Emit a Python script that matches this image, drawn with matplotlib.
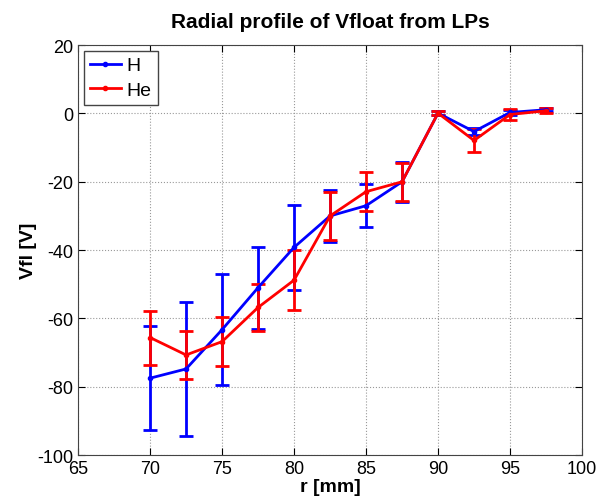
import matplotlib.pyplot as plt
from matplotlib.lines import Line2D
import numpy as np

plt.rcParams['font.family'] = ['Liberation Sans', 'DejaVu Sans']
plt.rcParams['axes.unicode_minus'] = False

# radial positions [mm]
r = [70, 72.5, 75, 77.5, 80, 82.5, 85, 87.5, 90, 92.5, 95, 97.5]

# floating potential, H
vfl_h = [-77.5, -74.8, -63.3, -51.0, -39.2, -30.0, -27.0, -20.0, 0.1, -5.3, 0.3, 1.1]
err_h = [15.3, 19.6, 16.2, 12.0, 12.5, 7.7, 6.3, 5.8, 0.5, 1.0, 0.8, 0.5]

# floating potential, He
vfl_he = [-65.6, -70.7, -66.8, -56.8, -48.8, -30.0, -22.9, -20.0, 0.1, -7.9, -0.3, 0.8]
err_he = [7.9, 7.0, 7.2, 7.0, 8.7, 7.0, 5.7, 5.5, 0.5, 3.5, 1.5, 0.7]

fig = plt.figure(figsize=(5.96, 5.02), dpi=100)
ax = fig.add_axes([0.131, 0.0916, 0.8455, 0.8164])

ax.errorbar(r, vfl_h, yerr=err_h, color='#0000ff', lw=2, marker='.', ms=6,
            elinewidth=2, capsize=5, capthick=2)
ax.errorbar(r, vfl_he, yerr=err_he, color='#ff0000', lw=2, marker='.', ms=6,
            elinewidth=2, capsize=5, capthick=2)

ax.set_xlim(65, 100)
ax.set_ylim(-100, 20)
ax.set_xticks(np.arange(65, 101, 5))
ax.set_yticks(np.arange(-100, 21, 20))
ax.grid(True, linestyle=':', color='#999999', lw=0.8)
ax.tick_params(direction='in', top=True, right=True, labelsize=13, length=5)
for s in ax.spines.values():
    s.set_color('#444444')

ax.set_xlabel('r [mm]', fontsize=14, fontweight='bold', labelpad=1)
ax.set_ylabel('Vfl [V]', fontsize=14, fontweight='bold', labelpad=0)
ax.set_title('Radial profile of Vfloat from LPs', fontsize=15, fontweight='bold', pad=13)

# legend shows plain line + dot, no error bars
handles = [Line2D([], [], color='#0000ff', lw=2, marker='.', ms=6),
           Line2D([], [], color='#ff0000', lw=2, marker='.', ms=6)]
leg = ax.legend(handles, ['H', 'He'], loc='upper left', fontsize=14, fancybox=False,
                framealpha=1, edgecolor='#444444', borderaxespad=0.3,
                handlelength=1.6, borderpad=0.3, labelspacing=0.35, handletextpad=0.3)
leg.get_frame().set_linewidth(1)

fig.savefig('out.png', dpi=100)
